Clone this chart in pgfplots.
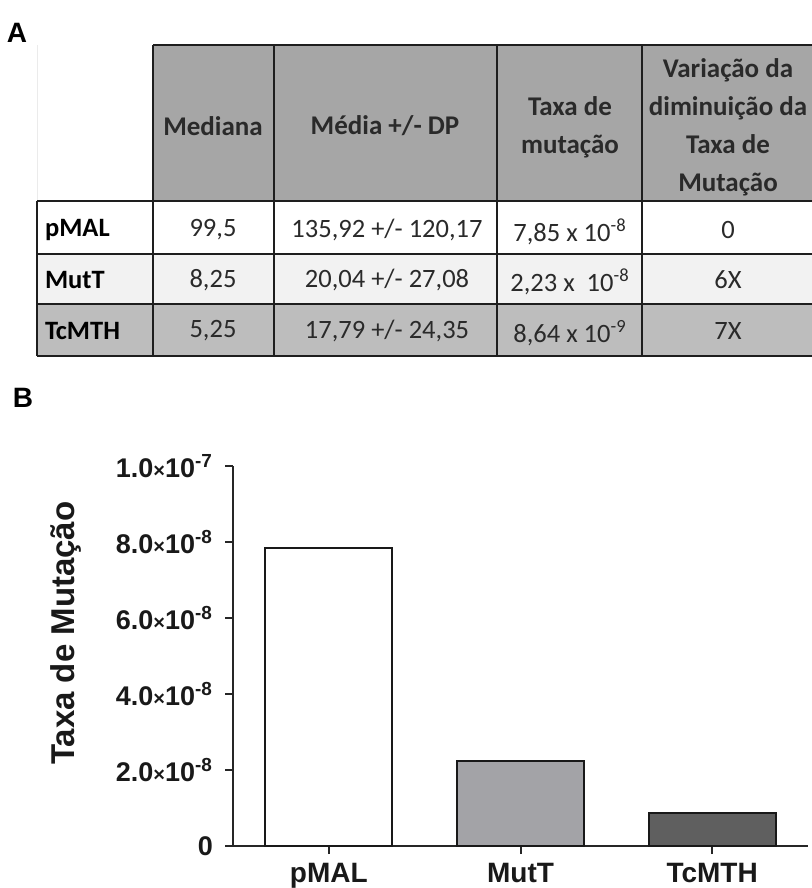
\documentclass[border=0pt]{standalone}
\usepackage{fontspec}
\setmainfont{Liberation Sans}
\newfontfamily\calibri{Carlito}
\usepackage{pgfplots}
\pgfplotsset{compat=1.18}
\definecolor{hdr}{HTML}{A6A6A6}
\definecolor{rowb}{HTML}{F2F2F2}
\definecolor{rowc}{HTML}{BDBDBD}
\definecolor{gridc}{HTML}{1E1E1E}
\definecolor{txt}{HTML}{2A2A2A}
\definecolor{barb}{HTML}{A3A3A7}
\definecolor{barc}{HTML}{5F5F5F}
\newcommand{\tx}{{\fontsize{10}{10}\selectfont\raisebox{0.3pt}{×}}}
\begin{document}
\begin{tikzpicture}
\path[use as bounding box] (0,0) rectangle (405.5pt,-444pt);
\begin{scope}[x=0.5pt,y=-0.5pt]
 \fill[hdr] (153,45) rectangle (815,201);
 \fill[white] (37,201) rectangle (815,254);
 \fill[rowb] (37,254) rectangle (815,304);
 \fill[rowc] (37,304) rectangle (815,356);
 \draw[black!8, line width=0.5pt] (37,45) -- (37,201);
 \draw[gridc, line width=1.2pt] (153,45) -- (815,45);
 \foreach \yy in {201,254,304,356} \draw[gridc, line width=1.2pt] (37,\yy) -- (815,\yy);
 \draw[gridc, line width=1.2pt] (37,201) -- (37,356);
 \foreach \xx in {153,274,497,642} \draw[gridc, line width=1.2pt] (\xx,45) -- (\xx,356);
 \node[font=\bfseries\fontsize{14}{14}\selectfont] at (17,33) {A};
 \node[font=\bfseries\fontsize{14}{14}\selectfont] at (23,398) {B};
 \tikzset{hd/.style={font=\calibri\bfseries\fontsize{13.5}{19}\selectfont, align=center, text=txt},
          vl/.style={font=\calibri\fontsize{13.25}{16}\selectfont, text=txt},
          rl/.style={font=\calibri\bfseries\fontsize{13.25}{16}\selectfont, text=black, anchor=west}}
 \node[hd] at (213,126) {Mediana};
 \node[hd] at (385,126) {Média +/- DP};
 \node[hd] at (570,127) {Taxa de\\mutação};
 \node[hd] at (728,127) {Variação da\\diminuição da\\Taxa de\\Mutação};
 \node[rl] at (38,230) {pMAL};
 \node[rl] at (38,280) {MutT};
 \node[rl] at (38,331) {TcMTH};
 \node[vl] at (213,230) {99,5};
 \node[vl] at (213,280) {8,25};
 \node[vl] at (213,331) {5,25};
 \node[vl] at (387,230) {135,92 +/- 120,17};
 \node[vl] at (387,280) {20,04 +/- 27,08};
 \node[vl] at (387,331) {17,79 +/- 24,35};
 \node[vl] at (570,232) {7,85 x 10\textsuperscript{-8}};
 \node[vl] at (570,282) {2,23 x\ \ 10\textsuperscript{-8}};
 \node[vl] at (570,333) {8,64 x 10\textsuperscript{-9}};
 \node[vl] at (728,230) {0};
 \node[vl] at (728,280) {6X};
 \node[vl] at (728,331) {7X};
\end{scope}
\begin{axis}[at={(116.5pt,-423pt)}, anchor=south west, scale only axis,
  width=287.5pt, height=190pt, xmin=-0.5, xmax=2.5, ymin=0, ymax=1e-7,
  axis lines*=left, axis line style={line width=1pt, black!85},
  ytick={0,2e-8,4e-8,6e-8,8e-8,1e-7},
  yticklabels={0, 2.0\tx10\textsuperscript{-8}, 4.0\tx10\textsuperscript{-8}, 6.0\tx10\textsuperscript{-8}, 8.0\tx10\textsuperscript{-8}, 1.0\tx10\textsuperscript{-7}},
  scaled y ticks=false,
  xtick={0,1,2}, xticklabels={pMAL,MutT,TcMTH},
  tick align=outside, major tick length=4pt,
  tick style={line width=1pt, black!85},
  ticklabel style={font=\bfseries\fontsize{13.5}{13.5}\selectfont, text=black!90},
  yticklabel style={xshift=-2.5pt},
  xticklabel style={font=\bfseries\fontsize{14}{14}\selectfont, yshift=-1pt},
  ylabel={Taxa de Mutação},
  ylabel style={font=\bfseries\fontsize{16.5}{16.5}\selectfont, text=black!90, at={(axis description cs:-0.29,0.56)}, anchor=center},
  ybar, bar width=63.5pt, clip=false]
\addplot[fill=white, draw=black!90, line width=1.1pt, bar shift=0pt] coordinates {(0,7.85e-8)};
\addplot[fill=barb, draw=black!90, line width=1.1pt, bar shift=0pt] coordinates {(1,2.23e-8)};
\addplot[fill=barc, draw=black!90, line width=1.1pt, bar shift=0pt] coordinates {(2,8.64e-9)};
\end{axis}
\end{tikzpicture}
\end{document}
